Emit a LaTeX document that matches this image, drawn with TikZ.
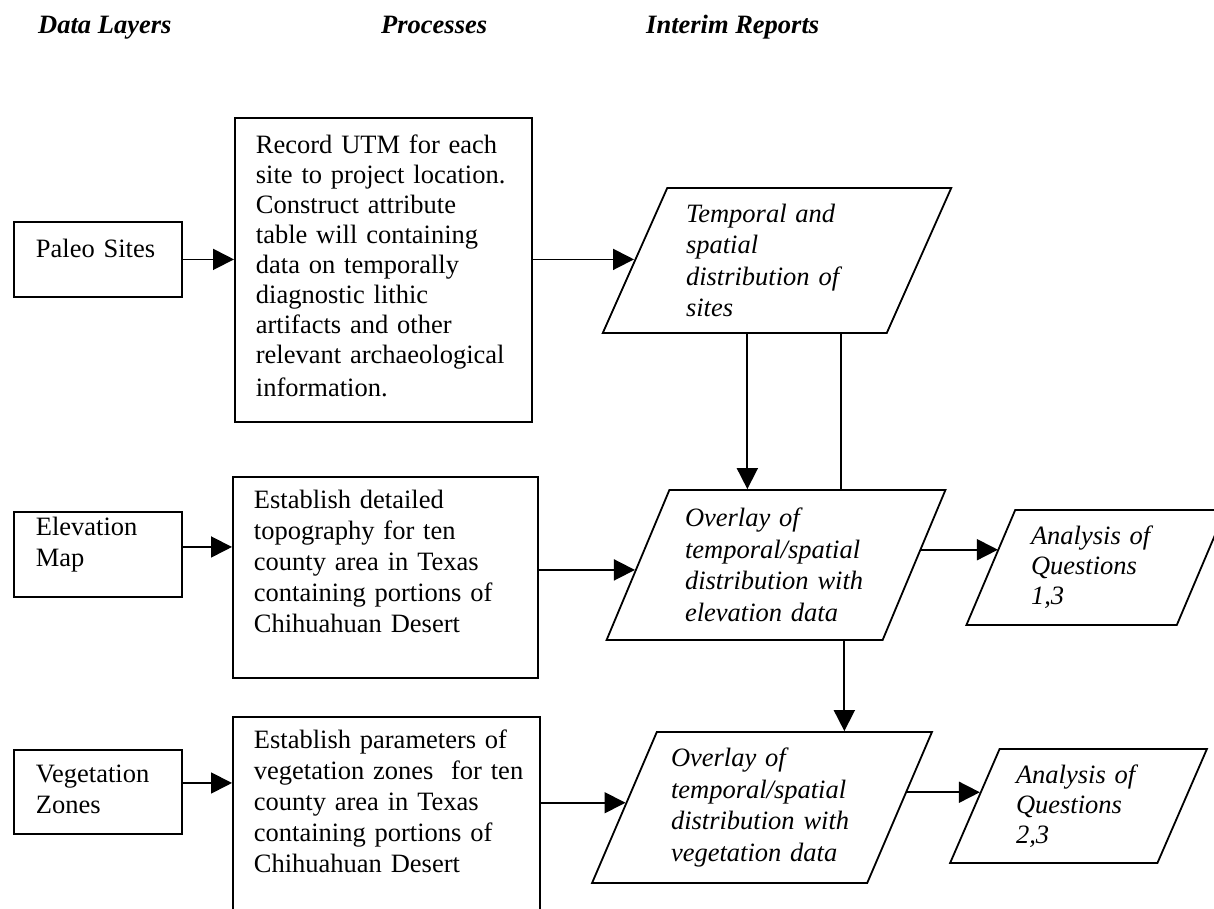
\documentclass[tikz,border=0pt]{standalone}
\usepackage{fontspec}
\setmainfont{Liberation Serif}
\usetikzlibrary{arrows.meta, shapes.geometric}

\begin{document}
\begin{tikzpicture}[x=1pt, y=-1pt,
  hd/.style={font=\fontsize{26.5}{31}\selectfont\bfseries\itshape, anchor=base west, inner sep=0pt},
  box/.style={draw, line width=1.8pt, rectangle, anchor=north west, align=left,
              inner xsep=21pt, inner ysep=0pt, font=\fontsize{26.5}{31}\selectfont},
  layer/.style={box, inner xsep=22pt, text width=124pt},
  para/.style={draw, line width=1.8pt, trapezium, trapezium left angle=65, trapezium right angle=115,
               trapezium stretches=true, inner sep=2pt, align=left,
               font=\fontsize{26.5}{31.5}\selectfont\itshape},
  arr/.style={-{Triangle[length=21pt, width=21pt]}, line width=1.8pt},
  link/.style={line width=1.8pt}
]
\useasboundingbox (0,0) rectangle (1214,909);
\clip (0,0) rectangle (1214,909);

\node[hd] (hdLayers) at (38,34) {Data Layers};
\node[hd] (hdProc) at (381,34) {Processes};
\node[hd] (hdReports) at (646,34) {Interim Reports};

\node[layer, text height=36pt, text depth=39pt] (paleo) at (13,221) {Paleo Sites};
\node[layer, text height=24pt, text depth=61pt] (elevMap) at (13,511) {Elevation\\ Map};
\node[layer, text height=33pt, text depth=51pt] (vegZones) at (13,749) {Vegetation\\ Zones};

\node[box, text width=255pt, text height=36pt, text depth=268pt, font=\fontsize{26.5}{30}\selectfont] (procSites) at (234,117)
  {Record UTM for each\\ site to project location.\\ Construct attribute\\ table will containing\\ data on temporally\\
   diagnostic lithic\\ artifacts and other\\ relevant archaeological\\[3pt] information.};
\node[box, text width=263pt, text height=32pt, text depth=169pt] (procElev) at (232,476)
  {Establish detailed\\ topography for ten\\ county area in Texas\\ containing portions of\\ Chihuahuan Desert};
\node[box, text width=265pt, text height=32pt, text depth=230pt] (procVeg) at (232,716)
  {Establish parameters of\\ \mbox{vegetation zones\ \ for ten}\\ county area in Texas\\ containing portions of\\ Chihuahuan Desert};

\node[para, text width=182pt, minimum width=350pt, minimum height=145pt] (tsDist) at (777,260.5)
  {Temporal and\\ spatial\\ distribution of\\ sites};
\node[para, text width=182pt, minimum width=340pt, minimum height=150pt] (ovElev) at (776,565)
  {Overlay of\\ temporal/spatial\\ distribution with\\ elevation data};
\node[para, text width=182pt, minimum width=340pt, minimum height=151pt] (ovVeg) at (762,807.5)
  {Overlay of\\ temporal/spatial\\ distribution with\\ vegetation data};
\node[para, text width=130pt, minimum width=260pt, minimum height=115pt, font=\fontsize{26.5}{30}\selectfont\itshape] (anOne) at (1096,567.5)
  {Analysis of\\ Questions\\ 1,3};
\node[para, text width=125pt, minimum width=257pt, minimum height=114pt, font=\fontsize{26.5}{30}\selectfont\itshape] (anTwo) at (1078.5,806)
  {Analysis of\\ Questions\\ 2,3};

\draw[arr] (paleo.east) -- (paleo.east -| procSites.west);
\draw[arr] (procSites.east |- paleo.east) -- (paleo.east -| tsDist.west);
\draw[arr] (elevMap.5) -- (elevMap.5 -| procElev.west);
\draw[arr] (ovElev.182 -| procElev.east) -- (ovElev.182);
\draw[arr] (vegZones.6) -- (vegZones.6 -| procVeg.west);
\draw[arr] (ovVeg.178 -| procVeg.east) -- (ovVeg.178);
\draw[arr] (tsDist.248) -- (tsDist.248 |- ovElev.north);
\draw[link] (tsDist.311) -- (tsDist.311 |- ovElev.north);
\draw[arr] (ovElev.312) -- (ovElev.312 |- ovVeg.north);
\draw[arr] (ovElev.6) -- (ovElev.6 -| anOne.169);
\draw[arr] (ovVeg.6) -- (ovVeg.6 -| anTwo.172);
\end{tikzpicture}
\end{document}
